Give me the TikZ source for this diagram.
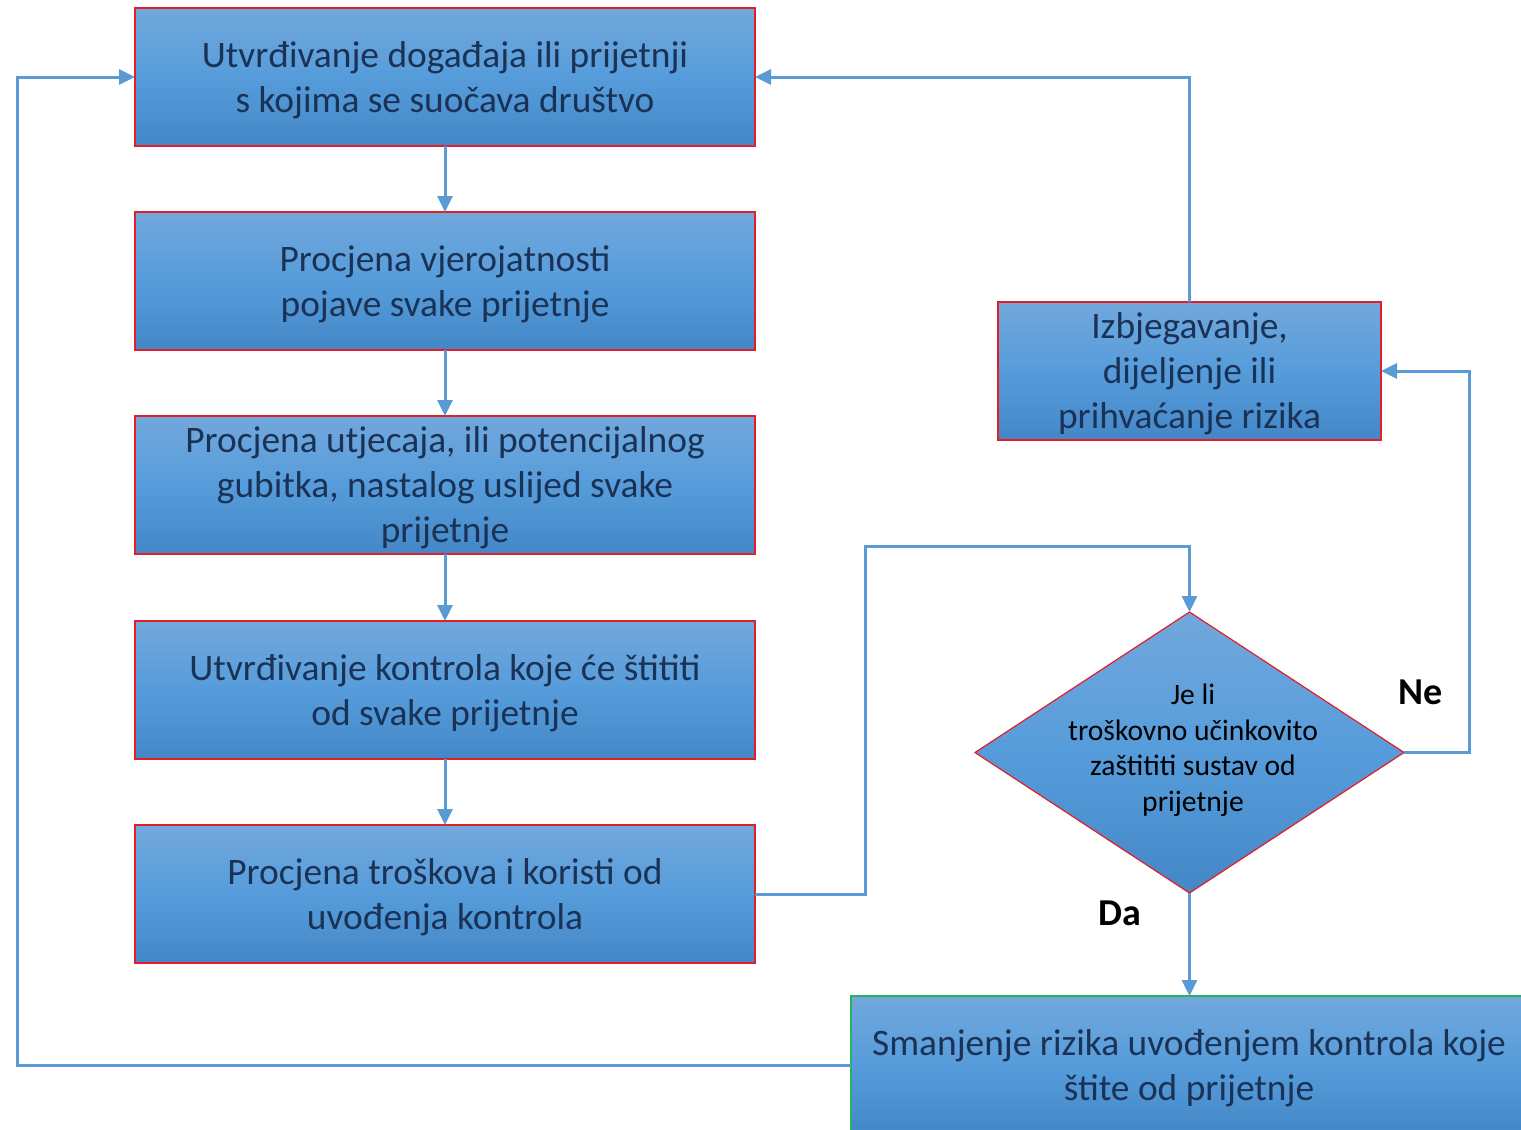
\documentclass[tikz,border=0pt]{standalone}
\usepackage{fontspec}
\setmainfont{Carlito}
\usetikzlibrary{shapes.geometric,arrows.meta}

\definecolor{linkblue}{RGB}{91,155,213}
\definecolor{boxtop}{RGB}{114,168,220}
\definecolor{boxmid}{RGB}{86,156,219}
\definecolor{boxbot}{RGB}{68,135,198}
\definecolor{edgered}{RGB}{226,30,40}
\definecolor{edgegreen}{RGB}{40,180,90}
\definecolor{boxtext}{RGB}{26,50,85}

\tikzset{
  stepbox/.style={rectangle, draw=edgered, line width=0.7pt,
    top color=boxtop, bottom color=boxbot, middle color=boxmid,
    inner sep=0pt, outer sep=0pt, align=center, text=boxtext, text depth=0pt,
    font=\fontsize{18.7}{22.5}\selectfont},
  mainbox/.style={stepbox, minimum width=310pt, minimum height=69pt},
  decision/.style={diamond, draw=edgered, line width=0.6pt,
    top color=boxtop, bottom color=boxbot, middle color=boxmid,
    inner sep=0pt, outer sep=0pt, minimum width=214.5pt, minimum height=140.5pt},
  decisiontext/.style={align=center, text=black, inner sep=0pt,
    font=\fontsize{14.8}{17.75}\selectfont},
  flow/.style={draw=linkblue, line width=1.5pt,
    -{Triangle[length=8pt,width=7.5pt]}},
  answer/.style={font=\fontsize{19}{20}\selectfont\bfseries, text=black, inner sep=0pt}
}

\begin{document}
\begin{tikzpicture}[x=0.5pt, y=-0.5pt]
\useasboundingbox (0,0) rectangle (1521,1130);

% main chain of steps
\node[mainbox] (b1) at (445,77)  {Utvrđivanje događaja ili prijetnji\\s kojima se suočava društvo};
\node[mainbox] (b2) at (445,281) {Procjena vjerojatnosti\\pojave svake prijetnje};
\node[mainbox] (b3) at (445,485) {Procjena utjecaja, ili potencijalnog\\gubitka, nastalog uslijed svake\\prijetnje};
\node[mainbox] (b4) at (445,690) {Utvrđivanje kontrola koje će štititi\\od svake prijetnje};
\node[mainbox] (b5) at (445,894) {Procjena troškova i koristi od\\uvođenja kontrola};

% right-hand branch
\node[stepbox, minimum width=191.5pt, minimum height=69pt] (avoid) at (1189.5,371)
  {Izbjegavanje,\\dijeljenje ili\\prihvaćanje rizika};
\node[decision] (dec) at (1189.5,752.5) {};
\node[decisiontext] (dectext) at (1193,750) {Je li\\troškovno učinkovito\\zaštititi sustav od\\prijetnje};
\node[stepbox, draw=edgegreen, minimum width=338pt, minimum height=69pt] (reduce) at (1189,1065)
  {Smanjenje rizika uvođenjem kontrola koje\\štite od prijetnje};

% answer labels
\node[answer] (ne) at (1421,692) {Ne};
\node[answer] (da) at (1120,913) {Da};

% helper corners
\coordinate (c5a) at (865,894);
\coordinate (c5b) at (865,546);
\coordinate (c5c) at (1189.5,546);
\coordinate (cne1) at (1469,752.5);
\coordinate (cne2) at (1469,371);
\coordinate (cav) at (1189.5,77);
\coordinate (cr1) at (17,1065);
\coordinate (cr2) at (17,77);

% connectors
\draw[flow] (b1.south) -- (b2.north);
\draw[flow] (b2.south) -- (b3.north);
\draw[flow] (b3.south) -- (b4.north);
\draw[flow] (b4.south) -- (b5.north);
\draw[flow] (b5.east) -- (c5a) -- (c5b) -- (c5c) -- (dec.north);
\draw[flow] (dec.east) -- (cne1) -- (cne2) -- (avoid.east);
\draw[flow] (avoid.north) -- (cav) -- (b1.east);
\draw[flow] (dec.south) -- (reduce.north -| dec.south);
\draw[flow] (reduce.west) -- (cr1) -- (cr2) -- (b1.west);
\end{tikzpicture}
\end{document}
